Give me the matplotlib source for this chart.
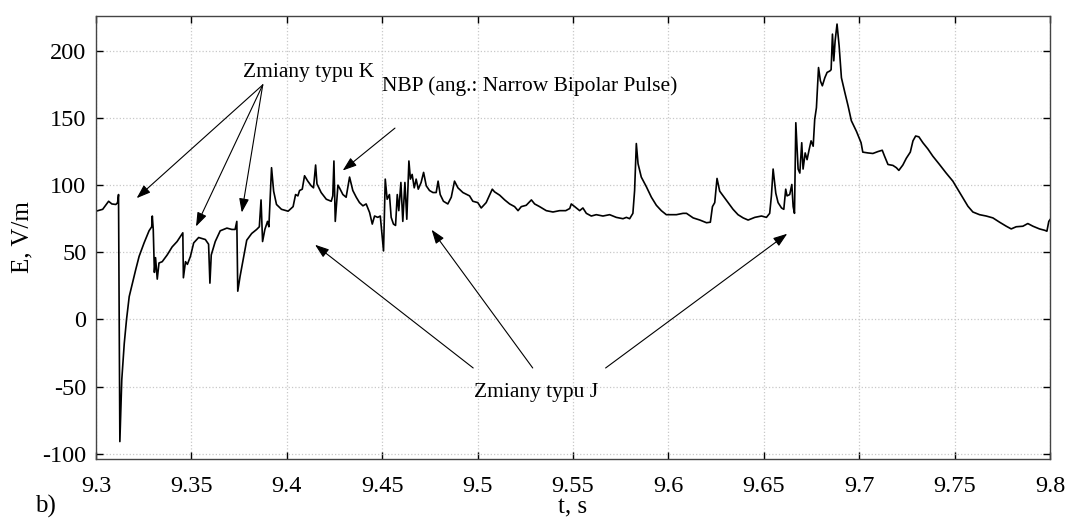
import matplotlib
matplotlib.use('Agg')
import matplotlib.pyplot as plt
import numpy as np

plt.rcParams['font.family'] = ['Liberation Serif', 'DejaVu Serif']
plt.rcParams['axes.unicode_minus'] = False

# pole elektryczne E(t)
t = [9.3000, 9.3035, 9.3066, 9.3083, 9.3104, 9.3113, 9.3118, 9.3125, 9.3135, 9.3148,
     9.3160, 9.3174, 9.3191, 9.3208, 9.3226, 9.3252, 9.3278, 9.3292, 9.3295, 9.3300,
     9.3306, 9.3312, 9.3321, 9.3330, 9.3347, 9.3373, 9.3399, 9.3425, 9.3448, 9.3455,
     9.3458, 9.3469, 9.3479, 9.3495, 9.3512, 9.3538, 9.3573, 9.3590, 9.3597, 9.3604,
     9.3625, 9.3651, 9.3686, 9.3712, 9.3729, 9.3738, 9.3743, 9.3755, 9.3773, 9.3790,
     9.3816, 9.3842, 9.3856, 9.3865, 9.3873, 9.3885, 9.3899, 9.3906, 9.3920, 9.3931,
     9.3946, 9.3972, 9.4007, 9.4033,
     9.4046, 9.4058, 9.4067, 9.4081, 9.4093, 9.4110, 9.4128, 9.4140, 9.4151, 9.4158,
     9.4180, 9.4207, 9.4233, 9.4241, 9.4247, 9.4254, 9.4268, 9.4276, 9.4294, 9.4311,
     9.4329, 9.4346, 9.4364, 9.4381, 9.4399, 9.4416, 9.4434, 9.4448, 9.4460, 9.4477,
     9.4490, 9.4500, 9.4507, 9.4516, 9.4526, 9.4538, 9.4547, 9.4559, 9.4570, 9.4579,
     9.4587, 9.4598, 9.4608, 9.4619, 9.4629, 9.4640, 9.4648, 9.4657, 9.4668, 9.4678,
     9.4689, 9.4704, 9.4717, 9.4731, 9.4748, 9.4766, 9.4783, 9.4793, 9.4804, 9.4821,
     9.4844, 9.4862, 9.4879, 9.4897, 9.4923, 9.4958, 9.4975, 9.5001, 9.5019, 9.5045,
     9.5077, 9.5089, 9.5116, 9.5142, 9.5168, 9.5194, 9.5212, 9.5229, 9.5255, 9.5282,
     9.5299, 9.5325, 9.5360, 9.5395, 9.5430, 9.5462, 9.5483, 9.5491, 9.5509, 9.5535,
     9.5552, 9.5570, 9.5596, 9.5622, 9.5657, 9.5692, 9.5727, 9.5762, 9.5780, 9.5797,
     9.5814, 9.5823, 9.5832, 9.5841, 9.5858, 9.5884, 9.5911, 9.5937, 9.5963, 9.5989,
     9.6015, 9.6042,
     9.6077, 9.6095, 9.6130, 9.6165, 9.6200, 9.6220, 9.6231, 9.6243, 9.6255, 9.6269,
     9.6287, 9.6313, 9.6339, 9.6365, 9.6392, 9.6418, 9.6453, 9.6488, 9.6514, 9.6531,
     9.6540, 9.6549, 9.6563, 9.6575, 9.6593, 9.6605, 9.6615, 9.6622, 9.6636, 9.6647,
     9.6654, 9.6661, 9.6668, 9.6680, 9.6689, 9.6699, 9.6706, 9.6717, 9.6727, 9.6738,
     9.6748, 9.6759, 9.6767, 9.6776, 9.6787, 9.6797, 9.6807, 9.6820, 9.6832, 9.6846,
     9.6853, 9.6860, 9.6867, 9.6874, 9.6884, 9.6895, 9.6907, 9.6925, 9.6942, 9.6959,
     9.6986, 9.7003,
     9.7010, 9.7019, 9.7046, 9.7072, 9.7098, 9.7121, 9.7133, 9.7151, 9.7177, 9.7195,
     9.7208, 9.7229, 9.7247, 9.7268, 9.7282, 9.7296, 9.7313, 9.7334, 9.7360, 9.7386,
     9.7421, 9.7456, 9.7491, 9.7517, 9.7544, 9.7570, 9.7596, 9.7631, 9.7666, 9.7701,
     9.7736, 9.7771, 9.7797, 9.7823, 9.7858, 9.7884, 9.7911, 9.7945, 9.7972, 9.7984,
     9.7994, 9.8001]

E = [80.6, 82, 88, 86, 85.6, 87, 93, -91, -45, -18,
     0, 17, 27, 37, 47, 57, 66, 69, 77, 67,
     35, 46, 30, 42, 43, 48, 54, 58, 63, 64.5,
     31, 43, 41, 47, 57, 61, 59.5, 56, 27, 48,
     58, 66, 68, 67, 67, 73, 21, 32, 46, 59,
     64, 67, 69, 89, 58, 67, 73, 69, 113, 95.5,
     85.6, 82, 80.6, 84,
     93, 92, 96, 97, 107, 103, 99.5, 98, 115, 101,
     94.5, 89.5, 88, 92, 118, 73, 100, 98, 93, 91,
     106, 96, 91, 87, 84.6, 86, 79.6, 71, 77, 76,
     77, 62, 51, 104.5, 89.5, 93, 76, 71, 70, 93,
     81, 102, 73, 102, 74.6, 118, 104.5, 108, 98, 104.5,
     97, 102, 109.5, 99.5, 96, 94.5, 94.5, 103, 93, 88,
     86, 91, 103, 98, 94.5, 92, 88, 87, 83, 87,
     97, 95, 92.5, 89, 86, 84, 81, 84, 85, 89,
     86, 84, 81, 80, 81, 81, 82.6, 86, 84, 81,
     83, 79, 77, 78, 77, 78, 76, 75, 76, 75,
     79, 96, 131, 116, 106, 99, 91, 85, 81, 78,
     78, 78,
     79, 79, 75.6, 74, 72, 72.4, 84, 87, 105, 95.5,
     92, 87, 82, 78, 75.6, 74, 76, 77, 76, 79,
     92, 112, 94, 87, 83, 82, 97, 92, 93, 100.5,
     84, 79, 146.5, 112, 109, 131.6, 112, 124, 119, 126.6,
     133, 129, 149, 157.7, 187.6, 177.6, 174, 180, 184, 185,
     186, 212.5, 192.6, 207.5, 220, 203.7, 180, 169, 159, 148,
     140, 134,
     131.6, 124.6, 124, 123.6, 125, 126, 121.6, 115.4, 114.7, 113,
     111, 115, 120, 124.6, 133, 136.6, 136, 131.6, 127, 121.6,
     115.4, 109, 103, 96.8, 90.5, 84.3, 80, 78, 77, 75.6,
     72.4, 69.4, 67.4, 69, 69.4, 71.4, 69.4, 67.4, 66.4, 65.7,
     73, 74.4]

x_ticks = [9.3, 9.35, 9.4, 9.45, 9.5, 9.55, 9.6, 9.65, 9.7, 9.75, 9.8]
y_ticks = [-100, -50, 0, 50, 100, 150, 200]

# adnotacje
k_text = 'Zmiany typu K'
k_origin = (9.3874, 174.7)
k_tips = [(9.3213, 90.3), (9.3524, 69.2), (9.3764, 79.6)]
nbp_text = 'NBP (ang.: Narrow Bipolar Pulse)'
nbp_start = (9.4567, 142.5)
nbp_tip = (9.4293, 110.9)
j_text = 'Zmiany typu J'
j_starts = [(9.4977, -36.2), (9.5289, -36.2), (9.5671, -36.2)]
j_tips = [(9.4148, 55.6), (9.4759, 66.8), (9.6623, 63.8)]

fig = plt.figure(figsize=(10.68, 5.18), dpi=100)
ax = fig.add_axes([0.0899, 0.1139, 0.8932, 0.8552])

ax.plot(t, E, color='black', lw=1.2)

ax.set_xlim(9.3, 9.8)
ax.set_ylim(-104, 226)
ax.set_xticks(x_ticks)
ax.set_xticklabels([f'{v:g}' for v in x_ticks])
ax.set_yticks(y_ticks)
ax.tick_params(direction='in', top=True, right=True, length=5, width=1,
               labelsize=17.5)
ax.tick_params(axis='x', pad=12)
ax.tick_params(axis='y', pad=7)
ax.grid(True, color='#c8c8c8', linestyle=':', lw=0.9)
for s in ax.spines.values():
    s.set_color('#444444')
    s.set_linewidth(1)

arrow = dict(arrowstyle='-|>,head_length=0.85,head_width=0.3', color='black',
             lw=0.8, shrinkA=0, shrinkB=0)

ax.text(9.4116, 183.6, k_text, ha='center', va='center', fontsize=15.5)
for tip in k_tips:
    ax.annotate('', xy=tip, xytext=k_origin, arrowprops=arrow)

ax.text(9.5275, 174, nbp_text, ha='center', va='center', fontsize=15.5)
ax.annotate('', xy=nbp_tip, xytext=nbp_start, arrowprops=arrow)

ax.text(9.5306, -54.6, j_text, ha='center', va='center', fontsize=15.5)
for st, tip in zip(j_starts, j_tips):
    ax.annotate('', xy=tip, xytext=st, arrowprops=arrow)

ax.set_ylabel('E, V/m', fontsize=18, labelpad=6)
ax.set_xlabel('t, s', fontsize=18, labelpad=0)
fig.text(0.033, 0.0, 'b)', fontsize=18, ha='left', va='bottom')

fig.savefig('out.png', dpi=100)
